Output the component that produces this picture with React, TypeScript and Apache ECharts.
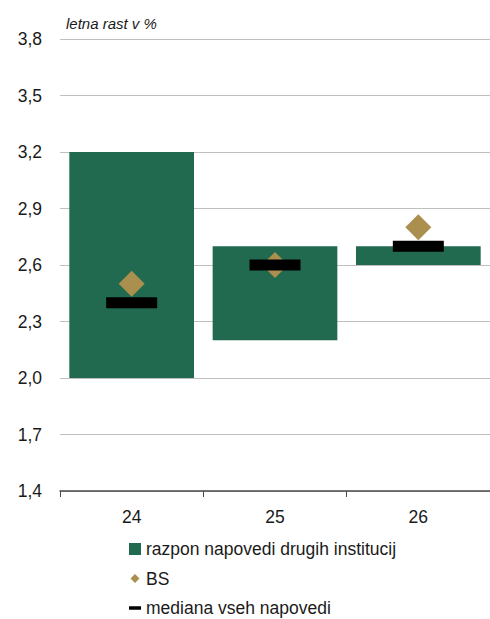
import React, { useEffect, useRef } from "react";
import * as echarts from "echarts";

const categories = ["24", "25", "26"];
const rangeLow = [2.0, 2.2, 2.6];
const rangeHigh = [3.2, 2.7, 2.7];
const bsValues = [2.5, 2.6, 2.8];
const medianValues = [2.4, 2.6, 2.7];

const GREEN = "#216A50";
const GOLD = "#AA8F4F";
const FONT = "Liberation Sans";

export default function App() {
  const ref = useRef<HTMLDivElement>(null);
  useEffect(() => {
    if (!ref.current) return;
    const chart = echarts.init(ref.current, undefined, { renderer: "svg" });
    const spans = rangeHigh.map((h, i) => Math.round((h - rangeLow[i]) * 100) / 100);
    chart.setOption({
      animation: false,
      backgroundColor: "#ffffff",
      grid: { left: 60, right: -3.5, top: 39, bottom: 128, containLabel: false },
      title: {
        text: "letna rast v %",
        left: 66,
        top: 16,
        padding: 0,
        textStyle: { fontFamily: FONT, fontSize: 15, fontStyle: "italic", fontWeight: "normal", color: "#1a1a1a" },
      },
      legend: {
        orient: "vertical",
        left: 129,
        top: 539,
        height: 80,
        padding: 0,
        itemWidth: 12,
        itemHeight: 12,
        itemGap: 9.5,
        textStyle: { fontFamily: FONT, fontSize: 17.5, lineHeight: 20, color: "#1a1a1a" },
        data: [
          { name: "razpon napovedi drugih institucij", icon: "rect" },
          { name: "BS", icon: "path://M0,0M12,12M6,1.5L10.5,6L6,10.5L1.5,6Z" },
          { name: "mediana vseh napovedi", icon: "path://M0,0H12V3.5H0Z" },
        ],
        selectedMode: false,
      },
      xAxis: {
        type: "category",
        data: categories,
        boundaryGap: true,
        axisLine: { show: true, lineStyle: { color: "#4a4a4a", width: 1.5 } },
        axisTick: { show: true, length: 6, alignWithLabel: false, lineStyle: { color: "#4a4a4a" } },
        axisLabel: { fontFamily: FONT, fontSize: 17.5, color: "#1a1a1a", margin: 17 },
        splitLine: { show: false },
      },
      yAxis: {
        type: "value",
        min: 1.4,
        max: 3.8,
        interval: 0.3,
        axisLine: { show: false },
        axisTick: { show: false },
        axisLabel: {
          fontFamily: FONT,
          fontSize: 17.5,
          color: "#1a1a1a",
          margin: 18,
          formatter: (v: number) => v.toFixed(1).replace(".", ","),
        },
        splitLine: { show: true, lineStyle: { color: "#BFBFBF", width: 1 } },
      },
      series: [
        {
          name: "base",
          type: "bar",
          stack: "range",
          data: rangeLow,
          itemStyle: { color: "transparent" },
          barCategoryGap: "13%",
          silent: true,
          z: 1,
        },
        {
          name: "razpon napovedi drugih institucij",
          type: "bar",
          stack: "range",
          data: spans,
          itemStyle: { color: GREEN },
          barCategoryGap: "13%",
          z: 2,
        },
        {
          name: "BS",
          type: "scatter",
          data: bsValues,
          symbol: "diamond",
          symbolSize: 26,
          itemStyle: { color: GOLD, opacity: 1 },
          z: 3,
        },
        {
          name: "mediana vseh napovedi",
          type: "scatter",
          data: medianValues,
          symbol: "rect",
          symbolSize: [51, 11],
          itemStyle: { color: "#000000", opacity: 1 },
          z: 4,
        },
      ],
    });
    return () => chart.dispose();
  }, []);
  return (
    <div
      ref={ref}
      style={{ position: "fixed", left: 0, top: 0, width: 490, height: 619, background: "#fff" }}
    />
  );
}
